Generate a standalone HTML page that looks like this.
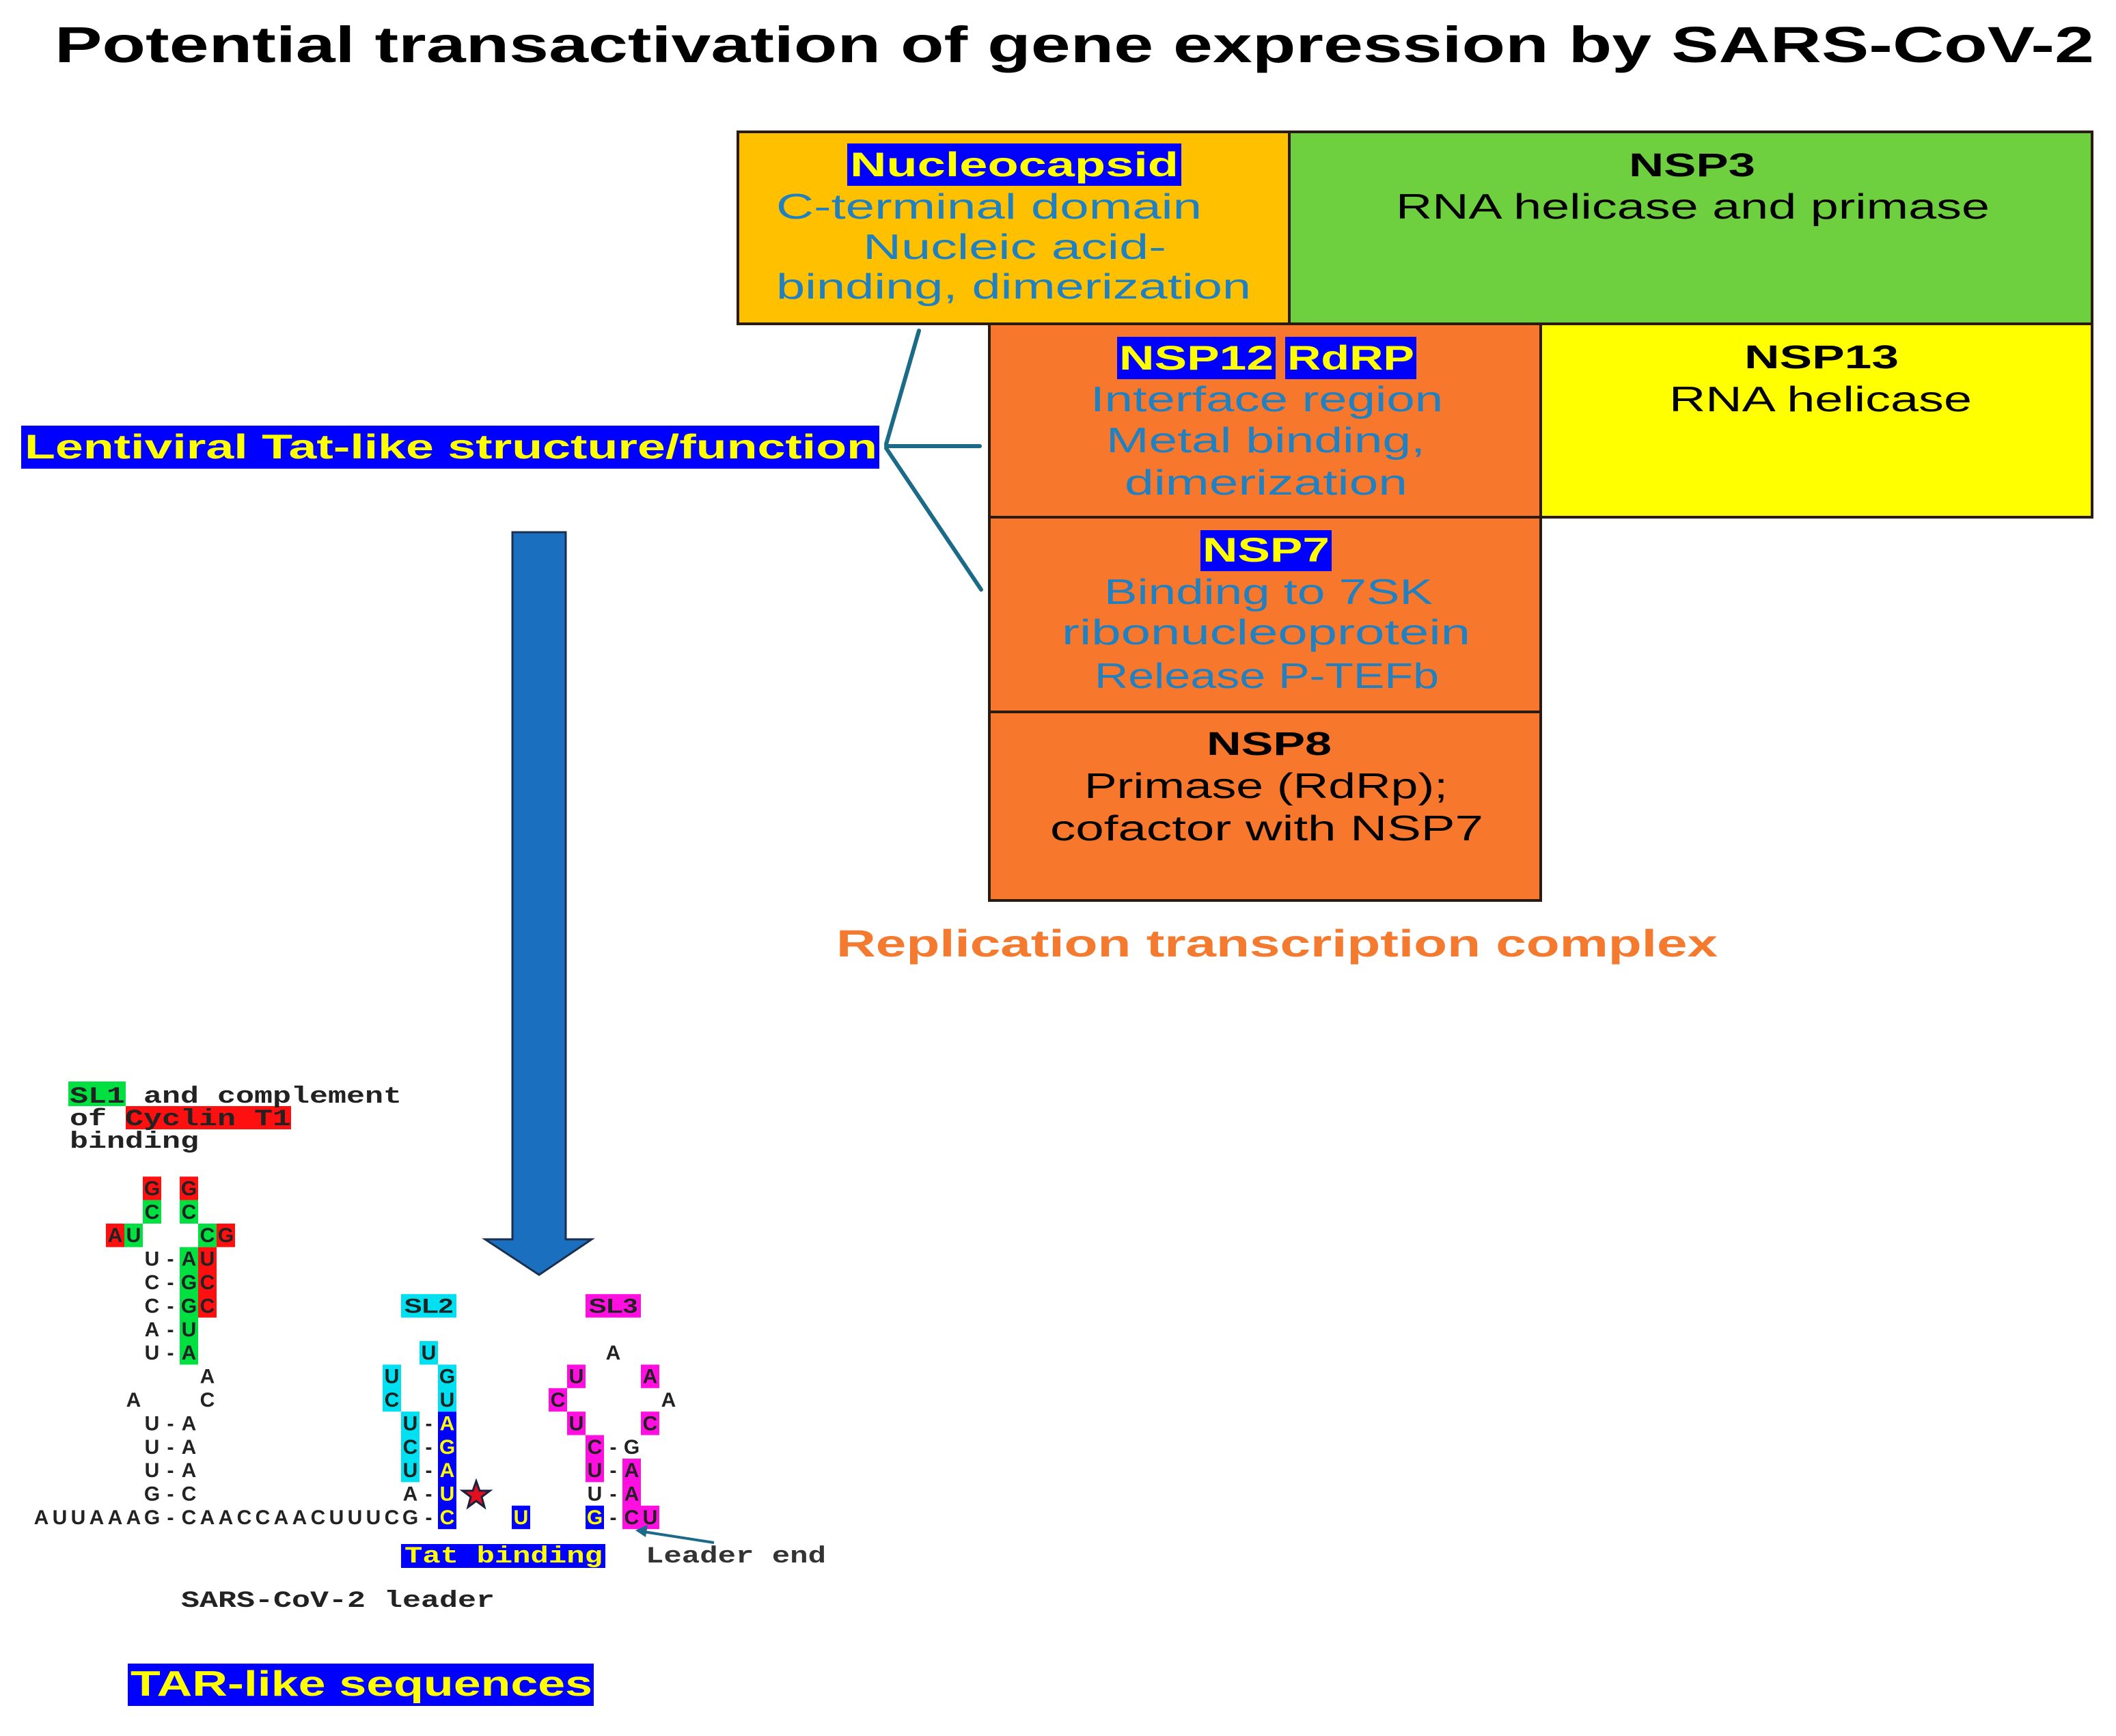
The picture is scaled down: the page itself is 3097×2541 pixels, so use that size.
<!DOCTYPE html>
<html><head><meta charset="utf-8"><style>html,body{margin:0;padding:0;background:#fff}svg{display:block}</style></head>
<body>
<svg xmlns="http://www.w3.org/2000/svg" width="3097" height="2541" viewBox="0 0 3097 2541">
<rect width="3097" height="2541" fill="#fff"/>
<g font-family="Liberation Sans, sans-serif">
<!-- Title -->
<text x="80" y="91" font-size="74" font-weight="bold" fill="#000" textLength="2985" lengthAdjust="spacingAndGlyphs">Potential transactivation of gene expression by SARS-CoV-2</text>

<!-- Boxes -->
<g stroke="#2a1a10" stroke-width="4">
<rect x="1080" y="193" width="807" height="281" fill="#ffc000"/>
<rect x="1887" y="193" width="1175" height="281" fill="#6fd03f"/>
<rect x="1448" y="474" width="807" height="283" fill="#f7772c"/>
<rect x="2255" y="474" width="807" height="283" fill="#ffff00"/>
<rect x="1448" y="757" width="807" height="285" fill="#f7772c"/>
<rect x="1448" y="1042" width="807" height="276" fill="#f7772c"/>
</g>

<!-- Nucleocapsid -->
<rect x="1240" y="210" width="489" height="62" fill="#0000ff"/>
<text x="1244" y="258" font-size="50" font-weight="bold" fill="#ffff00" textLength="481" lengthAdjust="spacingAndGlyphs">Nucleocapsid</text>
<g fill="#2080c0" font-size="52">
<text x="1136" y="320" textLength="623" lengthAdjust="spacingAndGlyphs">C-terminal domain</text>
<text x="1263" y="379" textLength="444" lengthAdjust="spacingAndGlyphs">Nucleic acid-</text>
<text x="1136" y="437" textLength="695" lengthAdjust="spacingAndGlyphs">binding, dimerization</text>
</g>
<!-- NSP3 -->
<text x="2384" y="258" font-size="48" font-weight="bold" fill="#000" textLength="185" lengthAdjust="spacingAndGlyphs">NSP3</text>
<text x="2043" y="320" font-size="52" fill="#000" textLength="869" lengthAdjust="spacingAndGlyphs">RNA helicase and primase</text>
<!-- NSP12 -->
<rect x="1635" y="493" width="232" height="62" fill="#0000ff"/>
<rect x="1881" y="493" width="192" height="62" fill="#0000ff"/>
<text x="1638" y="541" font-size="50" font-weight="bold" fill="#ffff00" textLength="226" lengthAdjust="spacingAndGlyphs">NSP12</text>
<text x="1884" y="541" font-size="50" font-weight="bold" fill="#ffff00" textLength="186" lengthAdjust="spacingAndGlyphs">RdRP</text>
<g fill="#2080c0" font-size="52">
<text x="1596" y="602" textLength="516" lengthAdjust="spacingAndGlyphs">Interface region</text>
<text x="1619" y="662" textLength="467" lengthAdjust="spacingAndGlyphs">Metal binding,</text>
<text x="1646" y="724" textLength="414" lengthAdjust="spacingAndGlyphs">dimerization</text>
</g>
<!-- NSP13 -->
<text x="2553" y="539" font-size="48" font-weight="bold" fill="#000" textLength="226" lengthAdjust="spacingAndGlyphs">NSP13</text>
<text x="2443" y="602" font-size="52" fill="#000" textLength="443" lengthAdjust="spacingAndGlyphs">RNA helicase</text>
<!-- NSP7 -->
<rect x="1757" y="776" width="192" height="60" fill="#0000ff"/>
<text x="1760" y="822" font-size="50" font-weight="bold" fill="#ffff00" textLength="186" lengthAdjust="spacingAndGlyphs">NSP7</text>
<g fill="#2080c0" font-size="52">
<text x="1616" y="884" textLength="481" lengthAdjust="spacingAndGlyphs">Binding to 7SK</text>
<text x="1554" y="943" textLength="598" lengthAdjust="spacingAndGlyphs">ribonucleoprotein</text>
<text x="1602" y="1007" textLength="504" lengthAdjust="spacingAndGlyphs">Release P-TEFb</text>
</g>
<!-- NSP8 -->
<text x="1766" y="1105" font-size="48" font-weight="bold" fill="#000" textLength="183" lengthAdjust="spacingAndGlyphs">NSP8</text>
<text x="1587" y="1168" font-size="52" fill="#000" textLength="532" lengthAdjust="spacingAndGlyphs">Primase (RdRp);</text>
<text x="1537" y="1230" font-size="52" fill="#000" textLength="634" lengthAdjust="spacingAndGlyphs">cofactor with NSP7</text>

<!-- Replication label -->
<text x="1224" y="1400" font-size="56" font-weight="bold" fill="#f47a30" textLength="1290" lengthAdjust="spacingAndGlyphs">Replication transcription complex</text>

<!-- Lentiviral label -->
<rect x="31" y="623" width="1256" height="63" fill="#0000ff"/>
<text x="36" y="671" font-size="50" font-weight="bold" fill="#ffff00" textLength="1248" lengthAdjust="spacingAndGlyphs">Lentiviral Tat-like structure/function</text>

<!-- connectors -->
<g stroke="#1a6a88" stroke-width="6" fill="none" stroke-linecap="round">
<line x1="1297" y1="650" x2="1345" y2="484"/>
<line x1="1297" y1="653" x2="1434" y2="653"/>
<line x1="1297" y1="656" x2="1436" y2="863"/>
</g>

<!-- Big arrow -->
<polygon points="750,779 828,779 828,1814 866,1814 789,1866 710,1814 750,1814" fill="#1a6fbe" stroke="#1a3050" stroke-width="3"/>

<!-- TAR-like -->
<rect x="187" y="2435" width="682" height="62" fill="#0000ff"/>
<text x="191" y="2482" font-size="52" font-weight="bold" fill="#ffff00" textLength="676" lengthAdjust="spacingAndGlyphs">TAR-like sequences</text>
</g>

<!-- RNA structure -->
<g font-family="Liberation Mono, monospace" font-weight="bold" font-size="34" fill="#222">
<rect x="100" y="1583" width="84" height="36" fill="#00e040"/>
<rect x="184" y="1619" width="242" height="34" fill="#ff1010"/>
<text x="102" y="1614" textLength="486" lengthAdjust="spacingAndGlyphs">SL1 and complement</text>
<text x="102" y="1647" textLength="324" lengthAdjust="spacingAndGlyphs">of Cyclin T1</text>
<text x="102" y="1680" textLength="189" lengthAdjust="spacingAndGlyphs">binding</text>

<rect x="587" y="2260" width="299" height="35" fill="#0000ff"/>
<text x="592" y="2287" fill="#ffff00" textLength="290" lengthAdjust="spacingAndGlyphs">Tat binding</text>
<text x="945" y="2287" fill="#333" textLength="264" lengthAdjust="spacingAndGlyphs">Leader end</text>
<text x="265" y="2352" textLength="459" lengthAdjust="spacingAndGlyphs">SARS-CoV-2 leader</text>
</g>

<!-- highlight cells -->
<g>
<!-- SL1 -->
<rect x="263" y="1825.4" width="27" height="172" fill="#00e040"/>
<rect x="290" y="1825.4" width="27" height="103.2" fill="#ff1010"/>
<rect x="155" y="1791" width="27" height="34.4" fill="#ff1010"/>
<rect x="182" y="1791" width="27" height="34.4" fill="#00e040"/>
<rect x="290" y="1791" width="27" height="34.4" fill="#00e040"/>
<rect x="317" y="1791" width="27" height="34.4" fill="#ff1010"/>
<rect x="209" y="1756.6" width="27" height="34.4" fill="#00e040"/>
<rect x="263" y="1756.6" width="27" height="34.4" fill="#00e040"/>
<rect x="209" y="1722.2" width="27" height="34.4" fill="#ff1010"/>
<rect x="263" y="1722.2" width="27" height="34.4" fill="#ff1010"/>
<!-- SL2 -->
<rect x="587" y="1894.2" width="81" height="34.4" fill="#00e0f0"/>
<rect x="641" y="2066.2" width="27" height="172" fill="#0000ff"/>
<rect x="587" y="2066.2" width="27" height="103.2" fill="#00e0f0"/>
<rect x="560" y="1997.4" width="27" height="68.8" fill="#00e0f0"/>
<rect x="641" y="1997.4" width="27" height="68.8" fill="#00e0f0"/>
<rect x="614" y="1963" width="27" height="34.4" fill="#00e0f0"/>
<rect x="749" y="2203.8" width="27" height="34.4" fill="#0000ff"/>
<!-- SL3 -->
<rect x="857" y="1894.2" width="81" height="34.4" fill="#ff10e0"/>
<rect x="830" y="1997.4" width="27" height="34.4" fill="#ff10e0"/>
<rect x="830" y="2066.2" width="27" height="34.4" fill="#ff10e0"/>
<rect x="803" y="2031.8" width="27" height="34.4" fill="#ff10e0"/>
<rect x="938" y="1997.4" width="27" height="34.4" fill="#ff10e0"/>
<rect x="938" y="2066.2" width="27" height="34.4" fill="#ff10e0"/>
<rect x="857" y="2100.6" width="27" height="68.8" fill="#ff10e0"/>
<rect x="911" y="2135" width="27" height="103.2" fill="#ff10e0"/>
<rect x="938" y="2203.8" width="27" height="34.4" fill="#ff10e0"/>
<rect x="857" y="2203.8" width="27" height="34.4" fill="#0000ff"/>
</g>

<g font-family="Liberation Sans, sans-serif" font-weight="bold" font-size="30" fill="#222" text-anchor="middle">
<!-- row 0 -->
<text x="60.5 87.5 114.5 141.5 168.5 195.5 222.5 249.5 276.5 303.5 330.5 357.5 384.5 411.5 438.5 465.5 492.5 519.5 546.5 573.5 600.5 627.5" y="2231">AUUAAAG-CAACCAACUUUCG-</text>
<text x="654.5 762.5 870.5" y="2231" fill="#ffff00">CUG</text>
<text x="897.5 924.5 951.5" y="2231">-CU</text>
<!-- row 1 -->
<text x="222.5 249.5 276.5 600.5 627.5 870.5 897.5 924.5" y="2196.6">G-CA-U-A</text>
<text x="654.5" y="2196.6" fill="#ffff00">U</text>
<!-- row 2 -->
<text x="222.5 249.5 276.5 600.5 627.5 870.5 897.5 924.5" y="2162.2">U-AU-U-A</text>
<text x="654.5" y="2162.2" fill="#ffff00">A</text>
<!-- row 3 -->
<text x="222.5 249.5 276.5 600.5 627.5 870.5 897.5 924.5" y="2127.8">U-AC-C-G</text>
<text x="654.5" y="2127.8" fill="#ffff00">G</text>
<!-- row 4 -->
<text x="222.5 249.5 276.5 600.5 627.5 843.5 951.5" y="2093.4">U-AU-UC</text>
<text x="654.5" y="2093.4" fill="#ffff00">A</text>
<!-- row 5 -->
<text x="195.5 303.5 573.5 654.5 816.5 978.5" y="2059">ACCUCA</text>
<!-- row 6 -->
<text x="303.5 573.5 654.5 843.5 951.5" y="2024.6">AUGUA</text>
<!-- row 7 -->
<text x="222.5 249.5 276.5 627.5 897.5" y="1990.2">U-AUA</text>
<!-- row 8 -->
<text x="222.5 249.5 276.5" y="1955.8">A-U</text>
<!-- row 9 -->
<text x="222.5 249.5 276.5 303.5" y="1921.4">C-GC</text>
<text x="627.5" y="1921.4" font-size="30" textLength="72" lengthAdjust="spacingAndGlyphs">SL2</text>
<text x="897.5" y="1921.4" font-size="30" textLength="72" lengthAdjust="spacingAndGlyphs">SL3</text>
<!-- row 10 -->
<text x="222.5 249.5 276.5 303.5" y="1887">C-GC</text>
<!-- row 11 -->
<text x="222.5 249.5 276.5 303.5" y="1852.6">U-AU</text>
<!-- row 12 -->
<text x="168.5 195.5 303.5 330.5" y="1818.2">AUCG</text>
<!-- row 13 -->
<text x="222.5 276.5" y="1783.8">CC</text>
<!-- row 14 -->
<text x="222.5 276.5" y="1749.4">GG</text>
</g>

<!-- star -->
<polygon points="697,2168 702,2182 717,2182 705,2191 709,2206 697,2197 685,2206 689,2191 677,2182 692,2182" fill="#e01020" stroke="#1a2040" stroke-width="3"/>

<!-- leader end arrow -->
<line x1="1045" y1="2258" x2="942" y2="2242" stroke="#1a6a88" stroke-width="4"/>
<polygon points="930,2240 948,2232 945,2250" fill="#1a6a88"/>
</svg>
</body></html>
